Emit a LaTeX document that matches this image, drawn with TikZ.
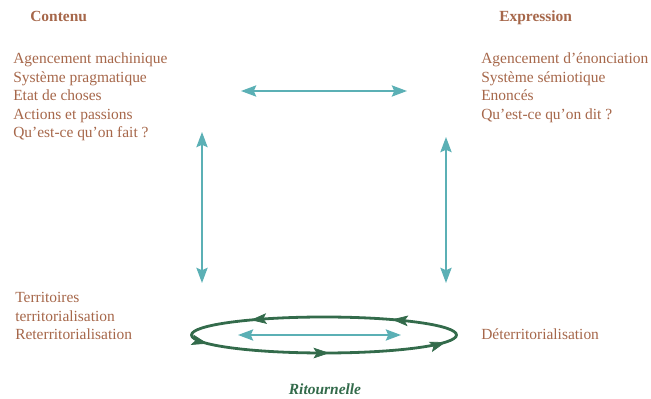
\documentclass[tikz,border=0pt]{standalone}
\usepackage{fontspec}
\setmainfont{Liberation Serif}
\usetikzlibrary{arrows.meta,decorations.markings}
\definecolor{txtbrown}{HTML}{A6674A}
\definecolor{teal2}{HTML}{5BB0B5}
\definecolor{dkgreen}{HTML}{336B4B}
\tikzset{
  lbl/.style={inner sep=0pt, anchor=base west, text=txtbrown, font=\fontsize{11.6}{14}\selectfont},
  head/.style={lbl, font=\fontsize{11.6}{14}\selectfont\bfseries},
  dbl/.style={draw=teal2, line width=1.2pt, {Stealth[length=11.5pt,width=8.5pt,inset=2pt]}-{Stealth[length=11.5pt,width=8.5pt,inset=2pt]}},
  loop/.style={draw=dkgreen, line width=2.1pt},
  tip/.style={dkgreen, line width=0.5pt},
}
\begin{document}
\begin{tikzpicture}[x=0.75pt,y=-0.75pt]
\useasboundingbox (0,0) rectangle (651,399);
% headings
\node[head] (contenu) at (30,22) {Contenu};
\node[head] (expr) at (499,22) {Expression};
% left block
\node[lbl] (l1) at (13,64) {Agencement machinique};
\node[lbl] (l2) at (13,82.5) {Système pragmatique};
\node[lbl] (l3) at (13,101) {Etat de choses};
\node[lbl] (l4) at (13,119.5) {Actions et passions};
\node[lbl] (l5) at (13,138) {Qu’est-ce qu’on fait ?};
% right block
\node[lbl] (r1) at (481,64) {Agencement d’énonciation};
\node[lbl] (r2) at (481,82.5) {Système sémiotique};
\node[lbl] (r3) at (481,101) {Enoncés};
\node[lbl] (r4) at (481,119.5) {Qu’est-ce qu’on dit ?};
% bottom left
\node[lbl] (b1) at (15,303) {Territoires};
\node[lbl] (b2) at (15,321.5) {territorialisation};
\node[lbl] (b3) at (15,340) {Reterritorialisation};
% bottom right
\node[lbl] (d1) at (481,340) {Déterritorialisation};
% title
\node[inner sep=0pt, anchor=base, text=dkgreen, font=\fontsize{11.6}{14}\selectfont\bfseries\itshape] (rit) at (325,395) {Ritournelle};
% arrow endpoints
\coordinate (h1) at (241,91);
\coordinate (h2) at (407,91);
\coordinate (v1a) at (202,132);
\coordinate (v1b) at (202,283);
\coordinate (v2a) at (446,137);
\coordinate (v2b) at (446,283);
\coordinate (e1) at (238,335);
\coordinate (e2) at (401,335);
\coordinate (ec) at (324,335);
\draw[dbl] (h1) -- (h2);
\draw[dbl] (v1a) -- (v1b);
\draw[dbl] (v2a) -- (v2b);
% ritournelle loop
\begin{scope}[shift={(ec)}, x=0.75pt, y=0.75pt]
\draw[loop, postaction={decorate}, decoration={markings,
  mark=at position 0.125 with {\arrow[tip]{Stealth[length=12pt,width=8pt,inset=2.5pt]}},
  mark=at position 0.385 with {\arrow[tip]{Stealth[length=12pt,width=8pt,inset=2.5pt]}},
  mark=at position 0.535 with {\arrow[tip]{Stealth[length=12pt,width=8pt,inset=2.5pt]}},
  mark=at position 0.76 with {\arrow[tip]{Stealth[length=12pt,width=8pt,inset=2.5pt]}},
  mark=at position 0.975 with {\arrow[tip]{Stealth[length=12pt,width=8pt,inset=2.5pt]}}}]
  (0,0) ellipse [x radius=132.5, y radius=18];
\end{scope}
\draw[dbl, line width=1.1pt] (e1) -- (e2);
\end{tikzpicture}
\end{document}
